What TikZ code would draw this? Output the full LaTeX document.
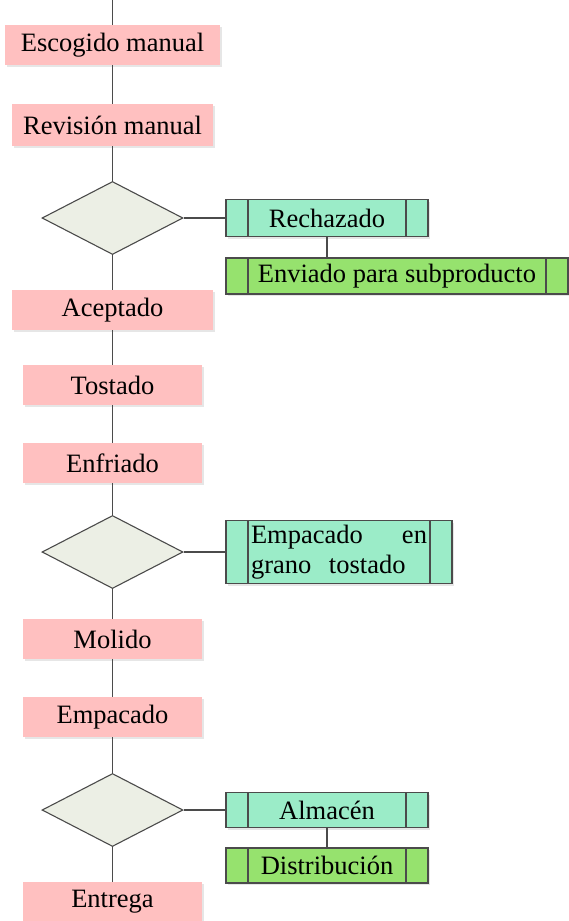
\documentclass[tikz,border=0pt]{standalone}
\usepackage{fontspec}
\setmainfont{Liberation Serif}
\usetikzlibrary{shapes.geometric,shadows,positioning}

\definecolor{pasoRosa}{RGB}{255,192,192}
\definecolor{procAgua}{RGB}{155,236,200}
\definecolor{procVerde}{RGB}{150,226,110}
\definecolor{decGris}{RGB}{236,239,229}
\definecolor{lineaGris}{RGB}{75,75,75}

\tikzset{
    paso/.style={fill=pasoRosa, minimum height=40pt, inner sep=0pt,
        drop shadow={opacity=0.2, shadow xshift=2pt, shadow yshift=-2pt}},
    decision/.style={diamond, draw=lineaGris, line width=1.1pt, fill=decGris,
        minimum width=141pt, minimum height=73pt, inner sep=0pt},
    proceso/.style={draw=lineaGris, line width=1.3pt, inner sep=0pt,
        drop shadow={opacity=0.2, shadow xshift=2pt, shadow yshift=-2pt},
        path picture={
            \draw[lineaGris, line width=1.3pt]
                ([xshift=22pt]path picture bounding box.north west) -- ([xshift=22pt]path picture bounding box.south west)
                ([xshift=-22pt]path picture bounding box.north east) -- ([xshift=-22pt]path picture bounding box.south east);
        }},
    linea/.style={draw=lineaGris, line width=1.5pt}
}

\begin{document}
\begin{tikzpicture}[x=1pt, y=-1pt, font=\fontsize{26.5}{30}\selectfont]
        \useasboundingbox (0,0) rectangle (569,921);
        \coordinate (arriba) at (112.5,0);
        % linea principal
        \node[paso, minimum width=215pt] (escogido) at (112.5,45) {Escogido manual};
        \node[paso, minimum width=201pt, minimum height=42pt] (revision) at (112.5,125) {Revisión manual};
        \node[decision] (dec1) at (112.5,218) {};
        \node[paso, minimum width=201pt] (aceptado) at (112.5,310) {Aceptado};
        \node[paso, minimum width=179pt] (tostado) at (112.5,385) {Tostado};
        \node[paso, minimum width=179pt] (enfriado) at (112.5,463) {Enfriado};
        \node[decision] (dec2) at (112.5,552) {};
        \node[paso, minimum width=179pt] (molido) at (112.5,639) {Molido};
        \node[paso, minimum width=179pt] (empacado) at (112.5,717) {Empacado};
        \node[decision] (dec3) at (112.5,810) {};
        \node[paso, minimum width=179pt] (entrega) at (112.5,902) {Entrega};
        % salidas
        \node[proceso, fill=procAgua, minimum width=202pt, minimum height=37pt] (rechazado) at (327,218) {Rechazado};
        \node[proceso, fill=procVerde, minimum width=342pt, minimum height=36pt] (enviado) at (397,276) {Enviado para subproducto};
        \node[proceso, fill=procAgua, minimum width=226pt, minimum height=63pt,
            text width=176pt, align=left] (grano) at (339,552) {Empacado\hfill en\\grano\ \ tostado};
        \node[proceso, fill=procAgua, minimum width=202pt, minimum height=35pt] (almacen) at (327,810) {Almacén};
        \node[proceso, fill=procVerde, minimum width=202pt, minimum height=35pt] (distribucion) at (327,865.5) {Distribución};
        % conectores
        \draw[linea] (arriba) -- (escogido.north);
        \draw[linea] (escogido.south) -- (revision.north);
        \draw[linea] (revision.south) -- (dec1.north);
        \draw[linea] (dec1.south) -- (aceptado.north);
        \draw[linea] (aceptado.south) -- (tostado.north);
        \draw[linea] (tostado.south) -- (enfriado.north);
        \draw[linea] (enfriado.south) -- (dec2.north);
        \draw[linea] (dec2.south) -- (molido.north);
        \draw[linea] (molido.south) -- (empacado.north);
        \draw[linea] (empacado.south) -- (dec3.north);
        \draw[linea] (dec3.south) -- (entrega.north);
        \draw[linea] (dec1.east) -- (rechazado.west);
        \draw[linea] (rechazado.south) -- (rechazado.south |- enviado.north);
        \draw[linea] (dec2.east) -- (grano.west);
        \draw[linea] (dec3.east) -- (almacen.west);
        \draw[linea] (almacen.south) -- (distribucion.north);
    \end{tikzpicture}
\end{document}
